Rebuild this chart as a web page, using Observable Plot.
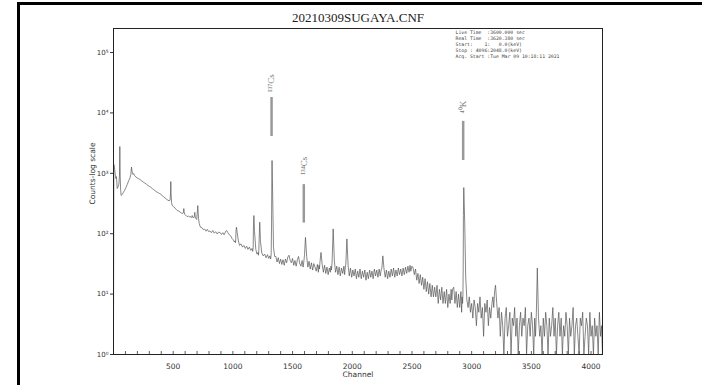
<!DOCTYPE html>
<html><head><meta charset="utf-8">
<script src="https://cdn.jsdelivr.net/npm/d3@7"></script>
<script src="https://cdn.jsdelivr.net/npm/@observablehq/plot@0.6"></script>
<style>
html,body{margin:0;padding:0;background:#fff;}
#wrap{position:relative;width:702px;height:385px;overflow:hidden;}
#border{position:absolute;left:17px;top:2px;right:-5px;bottom:-5px;border-left:3px solid #000;border-top:3px solid #000;pointer-events:none;}
#chart{position:absolute;left:0;top:0;}
</style></head><body><div id="wrap"><div id="chart"></div><div id="border"></div></div>
<script>
const title = "20210309SUGAYA.CNF";
const infoLines = [
  "Live Time  :3600.000 sec",
  "Real Time  :3620.380 sec",
  "Start:    1:   0.0(keV)",
  "Stop : 4096:2048.0(keV)",
  "Acq. Start :Tue Mar 09 10:18:11 2021"
];
const yLabel = "Counts-log scale";
const xLabel = "Channel";
const yTicks = [1, 10, 100, 1000, 10000, 100000];
const yTickLabels = ["10⁰", "10¹", "10²", "10³", "10⁴", "10⁵"];
const xLabelTicks = [500, 1000, 1500, 2000, 2500, 3000, 3500, 4000];
const xMinorTicks = d3.range(100, 4100, 100);

const peakNames = ["¹³⁷Cs", "¹³⁴Cs", "⁴⁰K"];
const peakChannels = [1324, 1594, 2929];
const peakMarkLow = [4070, 150, 1630];
const peakMarkHigh = [18000, 650, 7240];
const peakLabelAt = [22000, 950, 9800];

const channels = [
0,3,8,14,20,25,31,38,45,50,53,56,60,64,72,82,92,104,116,128,138,145,151,156,162,170,178,188,199,209,222,236,250,262,275,288,300,312,324,335,348,360,372,384,396,408,420,432,444,455,466,474,478,480,482,486,492,504,516,526,534,546,558,568,578,584,587,589,591,596,606,617,628,638,648,655,659,664,670,676,679,681,684,690,697,701,704,706,708,712,718,724,729,740,752,764,776,786,796,808,820,832,844,856,869,880,892,904,916,926,934,940,948,958,968,980,992,1004,1012,1018,1022,1024,1026,1030,1036,1046,1056,1068,1080,1092,1104,1116,1126,1138,1150,1160,1165,1168,1170,1172,1176,1181,1192,1202,1210,1214,1217,1220,1225,1231,1242,1254,1266,1278,1290,1300,1310,1316,1319,1321,1324,1326,1328,1331,1336,
1340,1350,1360,1370,1380,1390,1400,1410,1420,1430,1440,1450,1460,1470,1480,1490,1500,1510,1520,1530,1540,1550,1560,1570,1580,1588,1594,1600,1608,1618,1628,1638,1648,1658,1668,1678,1688,1698,1708,1716,1721,1725,1729,1738,1748,1758,1768,1778,1788,1798,1808,1816,1821,1826,1831,1840,1850,1860,1870,1880,1890,1900,1910,1920,1930,1936,1941,1946,1955,1965,1975,1985,1995,2005,2015,2025,2035,2045,2055,2065,2075,2085,2095,2105,2115,2125,2135,2145,2155,2165,2175,2185,2195,2205,2215,2225,2234,2242,2248,2256,2266,2276,2286,2296,2306,2316,2326,2336,2346,2356,2366,2376,2386,2396,2406,2416,2426,2436,2446,2456,2466,2476,2484,
2490,2500,2510,2520,2530,2540,2550,2560,2570,2580,2590,2600,2610,2620,2630,2640,2650,2660,2670,2680,2690,2700,2710,2720,2730,2740,2750,2760,2770,2780,2790,2800,2810,2820,2828,2834,2840,2850,2860,2870,2880,2890,2900,2910,2916,2920,2924,2927,2929,2931,2934,
2942,2950,2960,2970,2980,2990,3000,3010,3020,3030,3040,3050,3060,3070,3080,3090,3100,3110,3120,3130,3140,3150,3160,3170,3178,3185,3192,3200,3210,3220,3230,3240,3250,3260,3270,3280,3290,3300,3310,3320,3330,3340,3350,3360,3370,3380,3390,3400,3410,3420,3430,3440,3450,3460,3470,3480,3490,3500,3510,3520,3528,3535,3542,3550,3560,3570,3580,3590,3600,3610,3620,3630,3640,3650,3660,3670,3680,3690,3700,3710,3720,3730,3740,3750,3760,3770,3780,3790,3800,3810,3820,3830,3840,3850,3860,3870,3880,3890,3900,3910,3920,3930,3940,3950,3960,3970,3980,3990,4000,4010,4020,4030,4040,4050,4060,4070,4080,4088,4096
];
const counts = [
2,1400,1250,980,820,880,560,600,660,900,2780,900,520,430,445,480,520,580,660,760,840,950,1270,1060,960,990,910,870,835,820,790,750,715,690,660,630,610,590,560,540,515,495,480,465,450,430,405,390,372,360,350,360,480,730,470,330,292,280,265,252,242,238,228,220,216,220,240,261,235,210,202,192,197,188,192,185,200,190,182,190,205,226,195,178,172,215,260,292,250,180,148,135,128,126,117,119,110,118,109,111,104,113,102,108,99,106,105,97,104,96,103,110,113,104,97,93,84,79,73,76,71,82,110,128,105,76,64,68,60,64,57,62,55,60,53,57,51,53,60,120,200,110,55,46,49,44,50,80,155,75,48,43,46,40,45,39,43,38,42,48,150,700,1630,800,200,60,42,
42,34,40,32,38,31,37,30,38,33,41,44,36,33,39,30,36,29,37,42,32,29,36,28,34,45,87,42,28,35,26,33,25,32,28,24,31,23,30,26,33,49,31,23,30,22,28,21,27,23,29,25,34,120,35,23,29,21,28,20,27,22,29,21,27,31,82,30,20,27,19,25,20,26,18,24,19,26,18,24,19,25,17,23,18,25,19,24,18,26,20,25,19,26,20,25,27,43,26,19,25,18,24,19,26,20,27,19,25,20,27,21,26,20,27,21,28,22,29,23,30,24,29,
27,21,26,17,22,15,21,14,19,12,18,11,16,10,15,9,14,9,13,9,14,7,12,8,13,7,11,7,12,6,10,7,12,8,12,13,7,11,6,10,6,11,5,9,7,10,25,200,580,150,20,
8,6,9,5,7,4,8,6,3,7,5,9,4,6,2,7,5,8,3,6,4,7,9,6,11,14,7,4,6,2,5,3,1,4,6,2,3,5,1,4,3,6,2,4,1,3,5,2,4,3,6,1,3,4,2,5,3,1,4,2,5,27,4,2,3,1,4,2,5,3,1,4,2,3,6,2,4,1,3,5,2,4,1,3,2,5,3,1,4,2,3,6,1,3,4,2,1,4,3,5,1,2,4,3,1,5,2,3,1,4,2,3,1,5,2,3,1,4,2
];

const data = channels.map((c, i) => ({ch: c, n: Math.max(1, counts[i])}));
const peaks = peakNames.map((name, i) => ({name, ch: peakChannels[i], lo: peakMarkLow[i], hi: peakMarkHigh[i], ly: peakLabelAt[i]}));

const plot = Plot.plot({
  width: 702, height: 385,
  marginLeft: 113, marginRight: 100, marginTop: 28, marginBottom: 31,
  style: {background: "transparent", fontFamily: "DejaVu Sans", overflow: "visible"},
  x: {domain: [0, 4096]},
  y: {type: "log", domain: [1, 2.5e5]},
  marks: [
    Plot.axisY({ticks: yTicks, tickFormat: d => yTickLabels[yTicks.indexOf(d)], tickSize: 3, tickPadding: 2, fontSize: 7, fill: "#333", stroke: "#333", label: null}),
    Plot.axisX({ticks: xLabelTicks, tickFormat: d => String(d), tickSize: 0, tickPadding: 9, fontSize: 7.5, fill: "#333", label: null}),
    Plot.ruleX(xMinorTicks, {x: d => d, y1: 1, y2: 1.12, stroke: "#333", strokeWidth: 0.8}),
    Plot.line(data, {x: "ch", y: "n", stroke: "#555", strokeWidth: 0.7}),
    Plot.ruleX(peaks, {x: "ch", y1: "lo", y2: "hi", stroke: "#999", strokeWidth: 2.5}),
    Plot.text(peaks, {x: "ch", y: "ly", text: "name", rotate: -90, textAnchor: "start", fontFamily: "Liberation Serif", fontSize: 9, fill: "#777"}),
    Plot.frame({stroke: "#222", strokeWidth: 1}),
    Plot.text([title], {frameAnchor: "top", dy: -16, fontFamily: "Liberation Serif", fontSize: 13, fill: "#222"}),
    Plot.text([infoLines.join("\n")], {frameAnchor: "top-left", dx: 342, dy: 1, lineAnchor: "top", textAnchor: "start", fontFamily: "DejaVu Sans Mono", fontSize: 4.8, lineHeight: 1.25, fill: "#444"}),
    Plot.text([yLabel], {frameAnchor: "left", rotate: -90, dx: -21, dy: 13, fontSize: 7.5, fill: "#333"}),
    Plot.text([xLabel], {frameAnchor: "bottom", dy: 22, fontSize: 7.5, fill: "#333"})
  ]
});
document.getElementById("chart").appendChild(plot);
</script>
</body></html>
